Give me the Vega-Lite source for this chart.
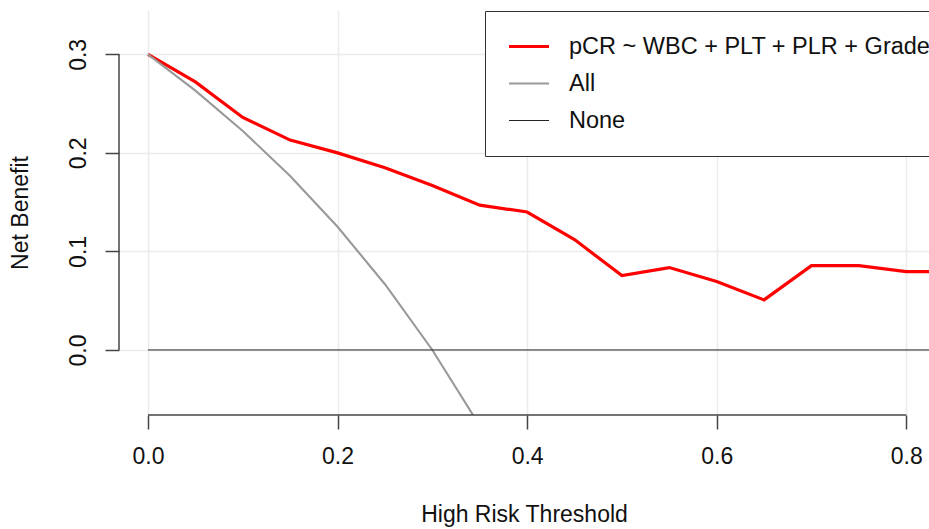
{
  "$schema": "https://vega.github.io/schema/vega-lite/v6.json",
  "width": 810,
  "height": 405,
  "autosize": {"type": "none"},
  "padding": {"left": 119, "top": 10, "right": 0, "bottom": 114},
  "background": "white",
  "config": {
    "view": {"stroke": null},
    "font": "Liberation Sans",
    "axis": {
      "grid": true,
      "gridColor": "#ebebeb",
      "gridWidth": 1.5,
      "domain": false,
      "tickColor": "#444444",
      "tickWidth": 1.5,
      "tickSize": 14,
      "labelFont": "Liberation Sans",
      "labelFontSize": 23,
      "labelColor": "#111111",
      "titleFont": "Liberation Sans",
      "titleFontSize": 23,
      "titleFontWeight": "normal",
      "titleColor": "#111111"
    }
  },
  "layer": [
    {
      "data": {
        "values": [
          {"series": "pCR ~ WBC + PLT + PLR + Grade", "t": 0.0, "nb": 0.300},
          {"series": "pCR ~ WBC + PLT + PLR + Grade", "t": 0.05, "nb": 0.272},
          {"series": "pCR ~ WBC + PLT + PLR + Grade", "t": 0.1, "nb": 0.236},
          {"series": "pCR ~ WBC + PLT + PLR + Grade", "t": 0.15, "nb": 0.213},
          {"series": "pCR ~ WBC + PLT + PLR + Grade", "t": 0.2, "nb": 0.200},
          {"series": "pCR ~ WBC + PLT + PLR + Grade", "t": 0.25, "nb": 0.185},
          {"series": "pCR ~ WBC + PLT + PLR + Grade", "t": 0.3, "nb": 0.167},
          {"series": "pCR ~ WBC + PLT + PLR + Grade", "t": 0.35, "nb": 0.147},
          {"series": "pCR ~ WBC + PLT + PLR + Grade", "t": 0.4, "nb": 0.140},
          {"series": "pCR ~ WBC + PLT + PLR + Grade", "t": 0.45, "nb": 0.112},
          {"series": "pCR ~ WBC + PLT + PLR + Grade", "t": 0.5, "nb": 0.0755},
          {"series": "pCR ~ WBC + PLT + PLR + Grade", "t": 0.55, "nb": 0.0836},
          {"series": "pCR ~ WBC + PLT + PLR + Grade", "t": 0.6, "nb": 0.0694},
          {"series": "pCR ~ WBC + PLT + PLR + Grade", "t": 0.65, "nb": 0.0508},
          {"series": "pCR ~ WBC + PLT + PLR + Grade", "t": 0.7, "nb": 0.0856},
          {"series": "pCR ~ WBC + PLT + PLR + Grade", "t": 0.75, "nb": 0.0856},
          {"series": "pCR ~ WBC + PLT + PLR + Grade", "t": 0.8, "nb": 0.0795},
          {"series": "pCR ~ WBC + PLT + PLR + Grade", "t": 0.85, "nb": 0.0795},
          {"series": "All", "t": 0.0, "nb": 0.300},
          {"series": "All", "t": 0.05, "nb": 0.2632},
          {"series": "All", "t": 0.1, "nb": 0.2222},
          {"series": "All", "t": 0.15, "nb": 0.1765},
          {"series": "All", "t": 0.2, "nb": 0.125},
          {"series": "All", "t": 0.25, "nb": 0.0667},
          {"series": "All", "t": 0.3, "nb": 0.0},
          {"series": "All", "t": 0.35, "nb": -0.0769},
          {"series": "All", "t": 0.4, "nb": -0.1667},
          {"series": "None", "t": 0.0, "nb": 0.0},
          {"series": "None", "t": 0.85, "nb": 0.0}
        ]
      },
      "mark": {"type": "line", "clip": true},
      "encoding": {
        "x": {
          "field": "t",
          "type": "quantitative",
          "scale": {"domain": [-0.0306, 0.824], "nice": false, "zero": false},
          "axis": {"values": [0, 0.2, 0.4, 0.6, 0.8], "format": ".1f", "labelPadding": 16, "titlePadding": 35, "title": "High Risk Threshold"}
        },
        "y": {
          "field": "nb",
          "type": "quantitative",
          "scale": {"domain": [-0.066, 0.345], "nice": false, "zero": false},
          "axis": {"values": [0, 0.1, 0.2, 0.3], "format": ".1f", "labelAngle": -90, "labelAlign": "center", "labelBaseline": "middle", "labelPadding": 27, "titlePadding": 35, "title": "Net Benefit"}
        },
        "color": {
          "field": "series",
          "type": "nominal",
          "scale": {"domain": ["pCR ~ WBC + PLT + PLR + Grade", "All", "None"], "range": ["#ff0000", "#999999", "#222222"]},
          "legend": {
            "orient": "none",
            "legendX": 366,
            "legendY": 1,
            "title": null,
            "symbolType": "stroke",
            "symbolSize": 1936,
            "clipHeight": 23,
            "labelFontSize": 23.5,
            "labelFont": "Liberation Sans",
            "labelColor": "#111111",
            "labelLimit": 2000,
            "labelOffset": 18,
            "symbolOffset": -6,
            "padding": 24,
            "rowPadding": 13,
            "strokeColor": "#333333",
            "fillColor": "white"
          }
        },
        "strokeWidth": {
          "field": "series",
          "type": "nominal",
          "scale": {"domain": ["pCR ~ WBC + PLT + PLR + Grade", "All", "None"], "range": [3.2, 1, 2]}
        },
        "order": {"field": "t", "type": "quantitative"}
      }
    },
    {
      "data": {"values": [{}]},
      "mark": {"type": "rule", "color": "#444444", "strokeWidth": 1.5},
      "encoding": {"x": {"datum": 0}, "x2": {"datum": 0.8}, "y": {"datum": -0.066}}
    },
    {
      "data": {"values": [{}]},
      "mark": {"type": "rule", "color": "#444444", "strokeWidth": 1.5},
      "encoding": {"x": {"datum": -0.0306}, "y": {"datum": 0}, "y2": {"datum": 0.3}}
    }
  ]
}
